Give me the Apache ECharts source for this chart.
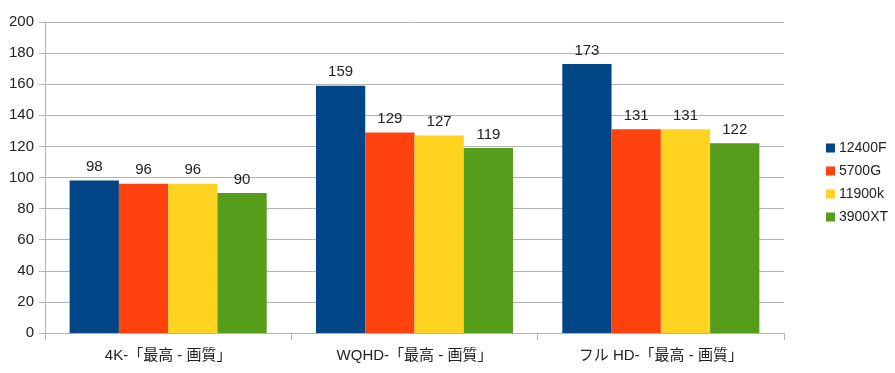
<!DOCTYPE html>
<html>
<head>
<meta charset="utf-8">
<script src="https://cdn.jsdelivr.net/npm/echarts@6/dist/echarts.min.js"></script>
<style>
html,body{margin:0;padding:0;background:#fff;}
#chart{width:895px;height:373px;}
</style>
</head>
<body>
<div id="chart"></div>
<script>
var categories = ['4K-「最高 - 画質」', 'WQHD-「最高 - 画質」', 'フル HD-「最高 - 画質」'];
var cpuNames = ['12400F', '5700G', '11900k', '3900XT'];
var cpu12400F = [98, 159, 173];
var cpu5700G = [96, 129, 131];
var cpu11900k = [96, 127, 131];
var cpu3900XT = [90, 119, 122];
var colors = ['#004586', '#ff420e', '#ffd320', '#579d1c'];

var font = '"Liberation Sans", "Noto Sans CJK JP", sans-serif';
var allValues = [cpu12400F, cpu5700G, cpu11900k, cpu3900XT];

var series = [];
for (var i = 0; i < cpuNames.length; i++) {
    series.push({
        name: cpuNames[i],
        type: 'bar',
        data: allValues[i],
        barGap: '0%',
        barCategoryGap: '20%',
        itemStyle: { color: colors[i] },
        label: {
            show: true,
            position: 'top',
            distance: 6,
            color: '#222',
            fontSize: 15,
            fontFamily: font
        }
    });
}

var myChart = echarts.init(document.getElementById('chart'));
var option = {
    animation: false,
    color: colors,
    grid: { left: 45, right: 111, top: 22, bottom: 40 },
    legend: {
        orient: 'vertical',
        left: 826,
        top: 141,
        padding: 0,
        itemWidth: 9,
        itemHeight: 9,
        itemGap: 9,
        icon: 'rect',
        textStyle: { fontSize: 14, color: '#222', fontFamily: font, padding: [0, 0, 0, -1] },
        data: cpuNames
    },
    xAxis: {
        type: 'category',
        data: categories,
        axisLine: { lineStyle: { color: '#b3b3b3' } },
        axisTick: { show: true, length: 7, lineStyle: { color: '#b3b3b3' } },
        axisLabel: { fontSize: 15, color: '#222', fontFamily: font, margin: 15 }
    },
    yAxis: {
        type: 'value',
        min: 0,
        max: 200,
        interval: 20,
        axisLine: { show: true, lineStyle: { color: '#b3b3b3' } },
        axisTick: { show: true, length: 6, lineStyle: { color: '#b3b3b3' } },
        axisLabel: { fontSize: 15, color: '#222', fontFamily: font, margin: 11 },
        splitLine: { lineStyle: { color: '#b3b3b3' } }
    },
    series: series
};
myChart.setOption(option);
</script>
</body>
</html>
